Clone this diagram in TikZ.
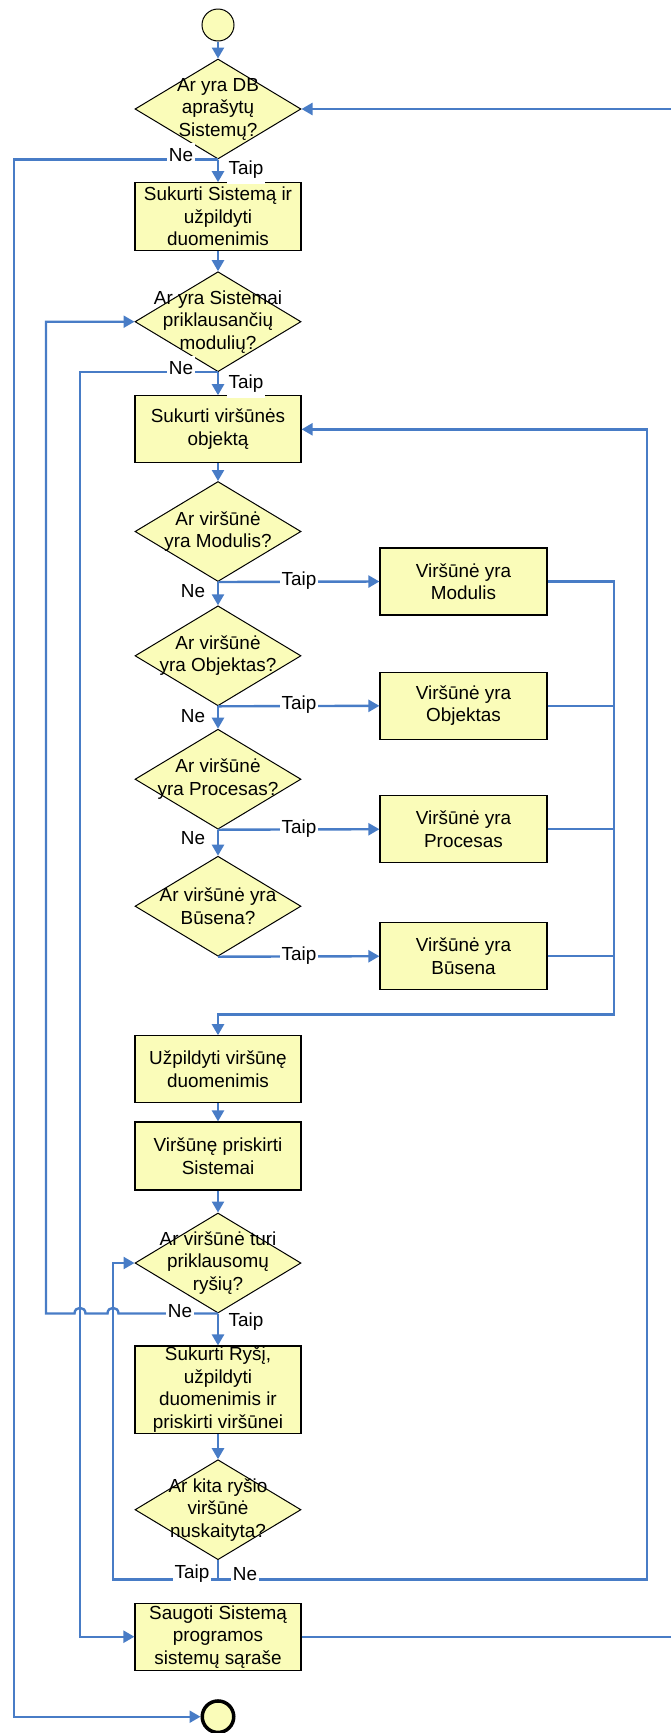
\documentclass[tikz,border=0pt]{standalone}
\usepackage{fontspec}
\setmainfont{Liberation Sans}
\usetikzlibrary{shapes.geometric,arrows.meta}
\definecolor{flowblue}{RGB}{72,124,198}
\definecolor{boxfill}{RGB}{250,252,185}

\begin{document}
\begin{tikzpicture}[x=1pt,y=-1pt,
  every node/.style={font=\fontsize{18.9}{22.5}\selectfont},
  box/.style={draw=black,line width=1.2pt,fill=boxfill,minimum width=166pt,
    minimum height=67pt,inner sep=0pt,align=center},
  dia/.style={diamond,draw=black,line width=1pt,fill=boxfill,
    minimum width=166pt,minimum height=100pt,inner sep=0pt},
  dtext/.style={align=center,inner sep=0pt},
  flow/.style={draw=flowblue,line width=2.4pt},
  arr/.style={flow,-{Triangle[length=11pt,width=12pt]}},
  tag/.style={fill=white,inner xsep=1.5pt,inner ysep=5.5pt},
  terminal/.style={circle,draw=black,fill=boxfill,inner sep=0pt},
]
\useasboundingbox (0,0) rectangle (670,1733);

% ---------- main column ----------
\node[terminal,line width=1pt,minimum size=32pt] (s) at (218,25) {};
\node[dia,label={[dtext]center:{Ar yra DB\\aprašytų\\Sistemų?}}] (d1) at (218,109) {};
\node[box,minimum height=67.5pt] (b1) at (218,216.5) {Sukurti Sistemą ir\\užpildyti\\duomenimis};
\node[dia,label={[dtext]center:{Ar yra Sistemai\\priklausančių\\modulių?}}] (d2) at (218,321.7) {};
\node[box] (b2) at (218,429.3) {Sukurti viršūnės\\objektą};
\node[dia,label={[dtext]center:{Ar viršūnė\\yra Modulis?}}] (d3) at (218,531.5) {};
\node[dia,label={[dtext]center:{Ar viršūnė\\yra Objektas?}}] (d4) at (218,655.8) {};
\node[dia,label={[dtext]center:{Ar viršūnė\\yra Procesas?}}] (d5) at (218,779.2) {};
\node[dia,label={[dtext]center:{Ar viršūnė yra\\Būsena?}}] (d6) at (218,906.2) {};
\node[box] (b3) at (218,1069.3) {Užpildyti viršūnę\\duomenimis};
\node[box,minimum height=68pt] (b4) at (218,1156) {Viršūnę priskirti\\Sistemai};
\node[dia,label={[dtext]center:{Ar viršūnė turi\\priklausomų\\ryšių?}}] (d7) at (218,1263) {};
\node[box,minimum height=87.3pt] (b5) at (218,1389.7) {Sukurti Ryšį,\\užpildyti\\duomenimis ir\\priskirti viršūnei};
\node[dia,label={[dtext]center:{Ar kita ryšio\\viršūnė\\nuskaityta?}}] (d8) at (218,1509.7) {};
\node[box] (b6) at (218,1636.7) {Saugoti Sistemą\\programos\\sistemų sąraše};
\node[terminal,line width=3.5pt,minimum size=31.5pt] (e) at (218,1716.7) {};

% ---------- vertex type boxes ----------
\node[box,minimum width=167pt] (r1) at (463.5,581.5) {Viršūnė yra\\Modulis};
\node[box,minimum width=167pt] (r2) at (463.5,705.8) {Viršūnė yra\\Objektas};
\node[box,minimum width=167pt] (r3) at (463.5,829.2) {Viršūnė yra\\Procesas};
\node[box,minimum width=167pt] (r4) at (463.5,956.2) {Viršūnė yra\\Būsena};

% ---------- routing rails ----------
\coordinate (lx1) at (14,0);
\coordinate (lx3) at (46,0);
\coordinate (lx2) at (80,0);
\coordinate (lx4) at (113,0);
\coordinate (cR)  at (614,1014.3);
\coordinate (rx1) at (647,0);
\coordinate (rx2) at (690,0);
\coordinate (j8)  at (218,1579.3);

% ---------- straight flow ----------
\draw[arr] (s.south) -- (d1.north);
\draw[arr] (d1.south) -- (b1.north);
\draw[arr] (b1.south) -- (d2.north);
\draw[arr] (d2.south) -- (b2.north);
\draw[arr] (b2.south) -- (d3.north);
\draw[arr] (d3.south) -- (d4.north);
\draw[arr] (d4.south) -- (d5.north);
\draw[arr] (d5.south) -- (d6.north);
\draw[arr] (b3.south) -- (b4.north);
\draw[arr] (b4.south) -- (d7.north);
\draw[arr] (d7.south) -- (b5.north);
\draw[arr] (b5.south) -- (d8.north);

% ---------- vertex type branches ----------
\draw[arr] (d3.south) -- (r1.west);
\draw[arr] (d4.south) -- (r2.west);
\draw[arr] (d5.south) -- (r3.west);
\draw[arr] (d6.south) -- (r4.west);
\draw[arr] (r1.east) -| (cR) -| (b3.north);
\draw[flow] (r2.east) -- (r2.east -| cR);
\draw[flow] (r3.east) -- (r3.east -| cR);
\draw[flow] (r4.east) -- (r4.east -| cR);

% ---------- loops ----------
\draw[arr] (d1.south) -- (d1.south -| lx1) -- (lx1 |- e.west) -- (e.west);
\draw[arr] (d2.south) -- (d2.south -| lx2) -- (lx2 |- b6.west) -- (b6.west);
\draw[arr] (d7.south) -- ([xshift=5.5pt]d7.south -| lx4)
  .. controls +(0,-7.5) and +(0,-7.5) .. ([xshift=-5.5pt]d7.south -| lx4)
  -- ([xshift=5.5pt]d7.south -| lx2)
  .. controls +(0,-7.5) and +(0,-7.5) .. ([xshift=-5.5pt]d7.south -| lx2)
  -- (d7.south -| lx3) -- (lx3 |- d2.west) -- (d2.west);
\draw[flow] (d8.south) -- (j8);
\draw[arr] (j8) -- (j8 -| lx4) -- (lx4 |- d7.west) -- (d7.west);
\draw[arr] (j8) -- (j8 -| rx1) -- (rx1 |- b2.east) -- (b2.east);
\draw[arr] (b6.east) -- (b6.east -| rx2) -- (rx2 |- d1.east) -- (d1.east);

% ---------- branch labels ----------
\node[tag] (n1) at (181,155) {Ne};
\node[tag] (t1) at (246,170) {Taip};
\node[tag] (n2) at (181,368) {Ne};
\node[tag] (t2) at (246,384) {Taip};
\node[tag] (n3) at (193,591) {Ne};
\node[tag] (t3) at (299,580.5) {Taip};
\node[tag] (n4) at (193,716.5) {Ne};
\node[tag] (t4) at (299,704.8) {Taip};
\node[tag] (n5) at (193,838) {Ne};
\node[tag] (t5) at (299,828.2) {Taip};
\node[tag] (t6) at (299,955.2) {Taip};
\node[tag] (n7) at (180,1311) {Ne};
\node[tag] (t7) at (246,1322) {Taip};
\node[tag] (t8) at (192,1574) {Taip};
\node[tag] (n8) at (245,1574) {Ne};
\end{tikzpicture}
\end{document}
